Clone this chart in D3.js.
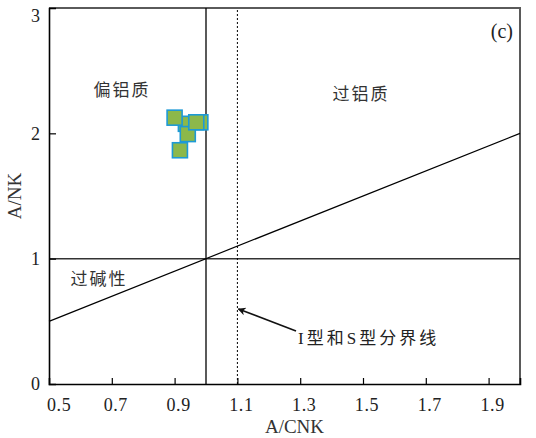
<!DOCTYPE html>
<html>
<head>
<meta charset="utf-8">
<script src="https://cdn.jsdelivr.net/npm/d3@7"></script>
<style>
  html, body { margin: 0; padding: 0; background: #fff; }
  svg { display: block; }
</style>
</head>
<body>
<script>
// Sample compositions: A/CNK vs A/NK
const acnk = [0.982, 0.936, 0.900, 0.942, 0.969, 0.917];
const ank  = [2.088, 2.076, 2.125, 1.994, 2.088, 1.865];

const xTicks = [0.5, 0.7, 0.9, 1.1, 1.3, 1.5, 1.7, 1.9];
const yTicks = [0, 1, 2, 3];

// Field boundaries
const metaluminousLimit = 1.0;   // A/CNK = 1
const ISBoundary = 1.1;          // I/S-type divide
const peralkalineLimit = 1.0;    // A/NK = 1

const SERIF = "'Liberation Serif', 'DejaVu Serif', serif";
const CJK = "'Noto Sans CJK SC', sans-serif";

const W = 536, H = 438;
const margin = { left: 49, right: 16, top: 8, bottom: 54 };

const svg = d3.select("body").append("svg").attr("width", W).attr("height", H);

const x = d3.scaleLinear().domain([0.5, 2.0]).range([margin.left, W - margin.right]);
const y = d3.scaleLinear().domain([0, 3]).range([H - margin.bottom, margin.top]);

const x0 = x.range()[0], x1 = x.range()[1];
const y0 = y.range()[0], y1 = y.range()[1];

// Frame: top and right edges
svg.append("path")
  .attr("d", `M${x0},${y1}H${x1}V${y0}`)
  .attr("fill", "none").attr("stroke", "#5a5a5a").attr("stroke-width", 2);

// Boundary lines
svg.append("line")
  .attr("x1", x0).attr("x2", x1)
  .attr("y1", y(peralkalineLimit)).attr("y2", y(peralkalineLimit))
  .attr("stroke", "#333").attr("stroke-width", 1.5);

svg.append("line")
  .attr("x1", x(metaluminousLimit)).attr("x2", x(metaluminousLimit))
  .attr("y1", y0).attr("y2", y1)
  .attr("stroke", "#000").attr("stroke-width", 1.3);

svg.append("line")
  .attr("x1", x(ISBoundary)).attr("x2", x(ISBoundary))
  .attr("y1", y0).attr("y2", y1)
  .attr("stroke", "#000").attr("stroke-width", 1)
  .attr("stroke-dasharray", "2,2");

// A/NK = A/CNK diagonal
const diag = x.domain();
svg.append("line")
  .attr("x1", x(diag[0])).attr("y1", y(diag[0]))
  .attr("x2", x(diag[1])).attr("y2", y(diag[1]))
  .attr("stroke", "#000").attr("stroke-width", 1.2);

// Axes
const xAxis = d3.axisBottom(x).tickValues(xTicks).tickSize(-6).tickFormat("");
const gx = svg.append("g").attr("transform", `translate(0,${y0})`).call(xAxis);
gx.select(".domain").attr("stroke", "#000").attr("stroke-width", 1.6);
gx.selectAll(".tick line").attr("stroke", "#000").attr("stroke-width", 1.2);
gx.selectAll(".tick").filter(d => d === 0.5).remove();

const yAxis = d3.axisLeft(y).tickValues(yTicks).tickSize(-7).tickFormat("");
const gy = svg.append("g").attr("transform", `translate(${x0},0)`).call(yAxis);
gy.select(".domain").attr("stroke", "#000").attr("stroke-width", 1.6);
gy.selectAll(".tick line").attr("stroke", "#000").attr("stroke-width", 1.2);
gy.selectAll(".tick").filter(d => d === 0 || d === 3).remove();

// Tick labels
svg.append("g").selectAll("text").data(xTicks).join("text")
  .attr("font-family", SERIF)
  .attr("x", (d, i) => i === 0 ? x(d) - 2 : x(d) + 4)
  .attr("y", y0 + 27)
  .attr("text-anchor", (d, i) => i === 0 ? "start" : "middle")
  .attr("font-size", 18)
  .attr("letter-spacing", 0.6)
  .attr("fill", "#222")
  .text(d => d3.format(".1f")(d));

svg.append("g").selectAll("text").data(yTicks).join("text")
  .attr("font-family", SERIF)
  .attr("x", x0 - 9)
  .attr("y", d => Math.max(y(d), y1 + 8))
  .attr("dy", "0.35em")
  .attr("text-anchor", "end")
  .attr("font-size", 18)
  .attr("fill", "#222")
  .text(d => d);

// Axis titles
svg.append("text").attr("font-family", SERIF)
  .attr("x", (x0 + x1) / 2 + 10).attr("y", H - 5)
  .attr("text-anchor", "middle").attr("font-size", 19).attr("fill", "#333")
  .text("A/CNK");

svg.append("text").attr("font-family", SERIF)
  .attr("transform", `translate(14,${(y0 + y1) / 2}) rotate(-90)`)
  .attr("text-anchor", "middle").attr("dy", "0.35em")
  .attr("font-size", 19).attr("fill", "#333")
  .text("A/NK");

// Field labels
const fieldLabel = (tx, ty, s) => svg.append("text").attr("font-family", CJK)
  .attr("x", tx).attr("y", ty).attr("dy", "0.36em")
  .attr("text-anchor", "middle").attr("font-size", 17)
  .attr("letter-spacing", 2).attr("fill", "#333").text(s);

fieldLabel(122, 90, "偏铝质");
fieldLabel(361, 94, "过铝质");
fieldLabel(99, 279, "过碱性");

svg.append("text").attr("font-family", SERIF)
  .attr("x", x1 - 7).attr("y", 31).attr("dy", "0.35em")
  .attr("text-anchor", "end").attr("font-size", 20).attr("fill", "#222")
  .text("(c)");

// I/S boundary annotation
svg.append("defs").append("marker")
  .attr("id", "arrowhead").attr("viewBox", "0 0 10 10")
  .attr("refX", 9).attr("refY", 5)
  .attr("markerWidth", 11).attr("markerHeight", 8)
  .attr("markerUnits", "userSpaceOnUse")
  .attr("orient", "auto")
  .append("path").attr("d", "M0,0L10,5L0,10L3,5Z").attr("fill", "#111");

svg.append("line")
  .attr("x1", 296).attr("y1", 331)
  .attr("x2", x(ISBoundary) + 1).attr("y2", 309)
  .attr("stroke", "#111").attr("stroke-width", 1.6)
  .attr("marker-end", "url(#arrowhead)");

const note = svg.append("text")
  .attr("x", 298).attr("y", 338).attr("dy", "0.36em")
  .attr("font-size", 17).attr("fill", "#222").attr("letter-spacing", 3);
note.append("tspan").attr("font-family", SERIF).text("I");
note.append("tspan").attr("font-family", CJK).text("型和");
note.append("tspan").attr("font-family", SERIF).text("S");
note.append("tspan").attr("font-family", CJK).text("型分界线");

// Samples
const size = 15;
svg.append("g").selectAll("rect").data(acnk.map((v, i) => [v, ank[i]])).join("rect")
  .attr("x", d => x(d[0]) - size / 2)
  .attr("y", d => y(d[1]) - size / 2)
  .attr("width", size).attr("height", size)
  .attr("fill", "#8cb84a")
  .attr("stroke", "#1d9ad6")
  .attr("stroke-width", 1.6);
</script>
</body>
</html>
